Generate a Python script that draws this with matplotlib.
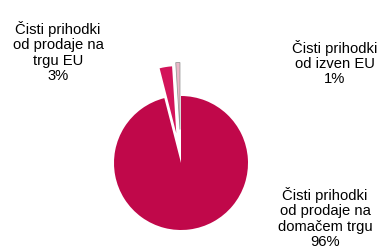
import matplotlib
matplotlib.use('Agg')
import matplotlib.pyplot as plt

plt.rcParams['font.family'] = ['Liberation Sans', 'DejaVu Sans']

# podatki
labels = ['Čisti prihodki\nod izven EU\n1%',
          'Čisti prihodki\nod prodaje na\ntrgu EU\n3%',
          'Čisti prihodki\nod prodaje na\ndomačem trgu\n96%']
shares = [1, 3, 96]
colors = ['#EBB8C8', '#D3145A', '#C0084A']
explode = [0.5, 0.45, 0]

fig = plt.figure(figsize=(3.84, 2.49), dpi=100)
W, H = 384, 249
r = 67
cx, cy = 181, 249 - 163
lim = 1.6
ax = fig.add_axes([(cx - lim * r) / W, (cy - lim * r) / H, 2 * lim * r / W, 2 * lim * r / H])

wedges, _ = ax.pie(shares, colors=colors, explode=explode, startangle=90,
                   counterclock=True, radius=1,
                   wedgeprops=dict(edgecolor='none'))
wedges[0].set_edgecolor('#999999')
wedges[0].set_linewidth(0.6)
ax.set_xlim(-lim, lim)
ax.set_ylim(-lim, lim)
ax.set_aspect('equal')
ax.axis('off')

# oznake
label_pos = [(335, 63), (58, 52), (325, 218)]
for text, (x, y) in zip(labels, label_pos):
    fig.text(x / W, 1 - y / H, text, ha='center', va='center',
             fontsize=10.6, linespacing=1.12)

fig.savefig('out.png', dpi=100)
